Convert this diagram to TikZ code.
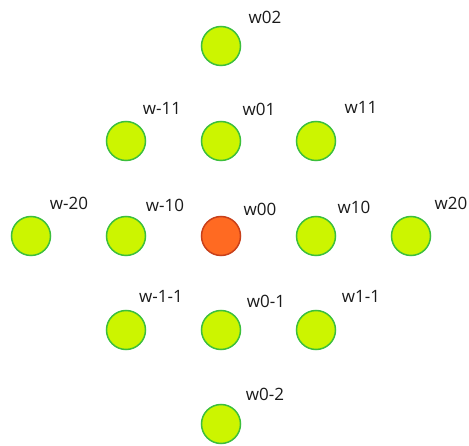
\documentclass[tikz,border=0pt]{standalone}
\usepackage{fontspec}
\setmainfont{Open Sans}
\definecolor{limefill}{HTML}{CCF500}
\definecolor{limeedge}{HTML}{3CBF3C}
\definecolor{orfill}{HTML}{FF6A22}
\definecolor{oredge}{HTML}{C8401A}
\definecolor{labtext}{HTML}{1A1A1A}
\tikzset{
  wnode/.style={circle, draw=limeedge, fill=limefill, line width=1.5pt, minimum size=39pt, inner sep=0pt},
  centernode/.style={wnode, draw=oredge, fill=orfill},
  wlabel/.style={text=labtext, font=\fontsize{17}{20}\selectfont, inner sep=0pt}
}
\begin{document}
\begin{tikzpicture}[x=1pt,y=-1pt]
\useasboundingbox (0,0) rectangle (469,446);
% circles
\node[wnode] (n02) at (221,46) {};
\node[wnode] (nm11) at (126,141) {};
\node[wnode] (n01) at (221,141) {};
\node[wnode] (n11) at (316,141) {};
\node[wnode] (nm20) at (31,236) {};
\node[wnode] (nm10) at (126,236) {};
\node[centernode] (n00) at (221,236) {};
\node[wnode] (n10) at (316,236) {};
\node[wnode] (n20) at (411,236) {};
\node[wnode] (nm1m1) at (126,330) {};
\node[wnode] (n0m1) at (221,330) {};
\node[wnode] (n1m1) at (316,330) {};
\node[wnode] (n0m2) at (221,424) {};
% labels
\node[wlabel] (l02) at (265,17) {w02};
\node[wlabel] (lm11) at (162,108) {w-11};
\node[wlabel] (l01) at (259,109) {w01};
\node[wlabel] (l11) at (361,107) {w11};
\node[wlabel] (lm20) at (69,203) {w-20};
\node[wlabel] (lm10) at (165,205) {w-10};
\node[wlabel] (l00) at (260,209) {w00};
\node[wlabel] (l10) at (354,207) {w10};
\node[wlabel] (l20) at (451,203) {w20};
\node[wlabel] (lm1m1) at (161,296) {w-1-1};
\node[wlabel] (l0m1) at (266,301) {w0-1};
\node[wlabel] (l1m1) at (361,296) {w1-1};
\node[wlabel] (l0m2) at (265,394) {w0-2};
\end{tikzpicture}
\end{document}
